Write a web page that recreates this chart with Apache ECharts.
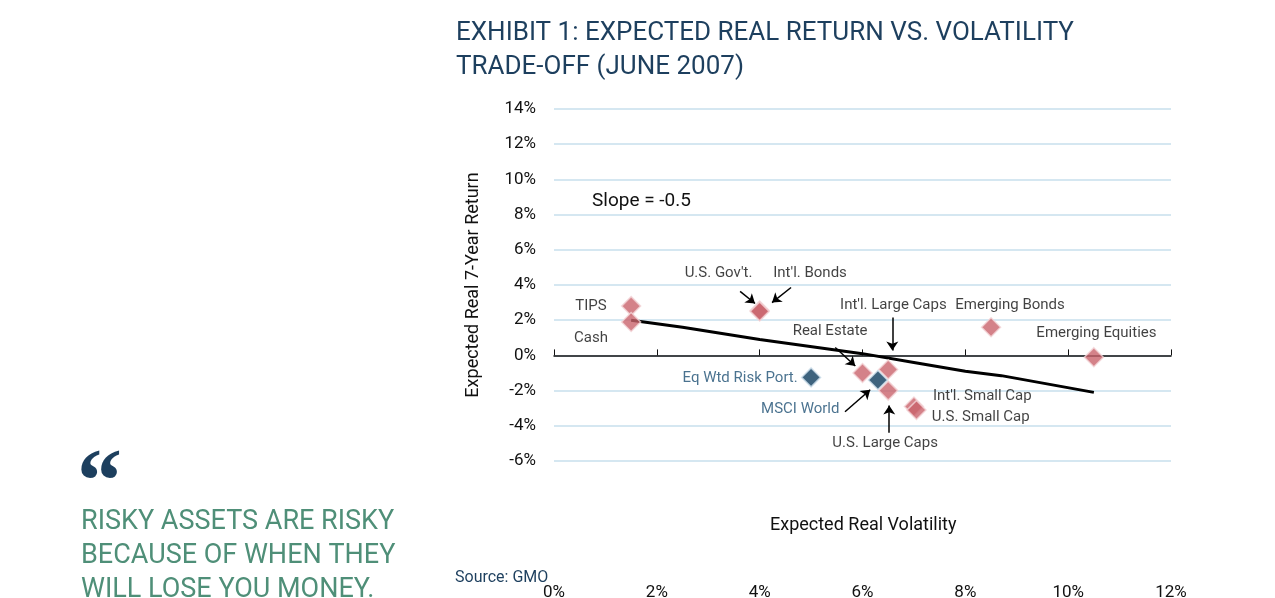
<!DOCTYPE html>
<html><head><meta charset="utf-8">
<script src="https://cdn.jsdelivr.net/npm/echarts@6/dist/echarts.min.js"></script>
<style>
html,body{margin:0;padding:0;background:#fff;}
#chart{width:1275px;height:598px;}
</style></head>
<body><div id="chart"></div>
<script>
// asset class points [volatility %, return %, name]
const assets = [
  [1.5, 2.8, 'TIPS'], [1.5, 1.9, 'Cash'], [4.0, 2.55, "U.S. Gov't."], [4.0, 2.5, "Int'l. Bonds"],
  [6.0, -1.0, 'Real Estate'], [6.5, -0.8, "Int'l. Large Caps"], [6.5, -2.0, 'U.S. Large Caps'],
  [7.0, -2.9, "Int'l. Small Cap"], [7.05, -3.1, 'U.S. Small Cap'],
  [8.5, 1.6, 'Emerging Bonds'], [10.5, -0.1, 'Emerging Equities']
];
const portfolios = [[5.0, -1.25, 'Eq Wtd Risk Port.'], [6.3, -1.4, 'MSCI World']];
const trendLine = [[1.5, 2.0], [2.5, 1.6], [4, 0.9], [6, 0.1], [7, -0.4], [8, -0.9], [8.7, -1.15], [10.5, -2.1]];
const labelsBlack = [
  [0.72, 2.8, 'TIPS'], [0.72, 1.0, 'Cash'], [3.2, 4.65, "U.S. Gov't."], [4.98, 4.65, "Int'l. Bonds"],
  [6.6, 2.85, "Int'l. Large Caps"], [8.87, 2.85, 'Emerging Bonds'], [10.55, 1.25, 'Emerging Equities'],
  [5.37, 1.36, 'Real Estate'], [8.33, -2.33, "Int'l. Small Cap"], [8.3, -3.5, 'U.S. Small Cap'],
  [6.44, -5.0, 'U.S. Large Caps']
];
const labelsNavy = [[3.62, -1.3, 'Eq Wtd Risk Port.'], [4.79, -3.07, 'MSCI World']];
const arrows = [
  [[3.62, 3.64], [3.91, 2.95]], [[4.61, 3.86], [4.24, 3.0]], [[6.58, 2.16], [6.58, 0.28]],
  [[5.47, 0.45], [5.86, -0.6]], [[5.66, -3.2], [6.15, -1.95]], [[6.52, -4.4], [6.52, -2.85]]
];

const FONT = "Roboto, sans-serif";
const chart = echarts.init(document.getElementById('chart'));
const textSeries = (data, color) => ({
  type: 'scatter', data: data, symbolSize: 0, silent: true, z: 5,
  label: { show: true, formatter: p => p.data[2], color: color, fontSize: 15, fontFamily: FONT }
});
chart.setOption({
  animation: false,
  textStyle: { fontFamily: FONT },
  title: [
    { text: 'EXHIBIT 1: EXPECTED REAL RETURN VS. VOLATILITY\nTRADE-OFF (JUNE 2007)', left: 451, top: 11,
      textStyle: { color: '#1d3f5e', fontSize: 26, fontWeight: 'normal', lineHeight: 34 } },
    { text: '\u201C', left: 72, top: 438, textStyle: { color: '#1d3f5e', fontSize: 90, fontFamily: 'Georgia, serif', fontWeight: 'bold' } },
    { text: 'RISKY ASSETS ARE RISKY\nBECAUSE OF WHEN THEY\nWILL LOSE YOU MONEY.', left: 76, top: 500,
      textStyle: { color: '#4f8f78', fontSize: 27, fontWeight: 'normal', lineHeight: 34 } },
    { text: 'Source: GMO', left: 450, top: 565, textStyle: { color: '#1d3f5e', fontSize: 16, fontWeight: 'normal' } },
    { text: 'Expected Real Volatility', left: 765, top: 511, textStyle: { color: '#111', fontSize: 18, fontWeight: 'normal' } },
    { text: 'Slope = -0.5', left: 587, top: 187, textStyle: { color: '#111', fontSize: 19, fontWeight: 'normal' } }
  ],
  grid: { left: 554, right: 104, top: 109, bottom: 137, outerBoundsMode: 'none', containLabel: false },
  xAxis: {
    type: 'value', min: 0, max: 12, interval: 2,
    axisLine: { onZero: true, lineStyle: { color: '#111', width: 1.5 } },
    axisTick: { show: true, inside: true, length: 6, lineStyle: { color: '#111' } },
    axisLabel: { formatter: '{value}%', color: '#111', fontSize: 17, margin: 123 },
    splitLine: { show: false }
  },
  yAxis: {
    type: 'value', min: -6, max: 14, interval: 2,
    name: 'Expected Real 7-Year Return', nameLocation: 'middle', nameGap: 72,
    nameTextStyle: { color: '#111', fontSize: 18 },
    axisLine: { show: false }, axisTick: { show: false },
    axisLabel: { formatter: '{value}%', color: '#111', fontSize: 17, margin: 18 },
    splitLine: { lineStyle: { color: '#c7dfec', width: 1.5 } }
  },
  series: [
    { type: 'line', data: trendLine, symbol: 'none', lineStyle: { color: '#000', width: 3 }, z: 2,
      markLine: { silent: true, symbol: ['none', 'arrow'], symbolSize: 9, label: { show: false },
        lineStyle: { color: '#000', width: 1.5, type: 'solid' },
        data: arrows.map(a => [{ coord: a[0] }, { coord: a[1] }]) } },
    { type: 'scatter', data: assets, symbol: 'diamond', symbolSize: 19, z: 3,
      itemStyle: { color: '#c9636b', borderColor: '#f4d6d8', borderWidth: 1.5 } },
    { type: 'scatter', data: portfolios, symbol: 'diamond', symbolSize: 19, z: 4,
      itemStyle: { color: '#0e3c5e', borderColor: '#cfe0ec', borderWidth: 1.5 } },
    textSeries(labelsBlack, '#111'),
    textSeries(labelsNavy, '#1d4f73')
  ]
});
</script></body></html>
